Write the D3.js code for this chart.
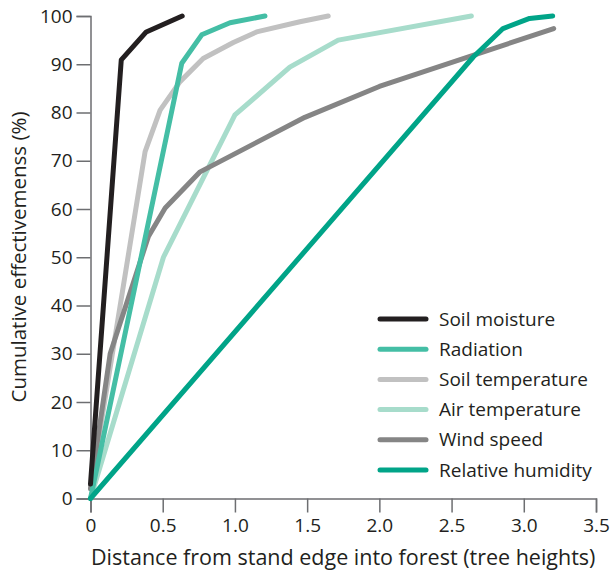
<!DOCTYPE html>
<html>
<head>
<meta charset="utf-8">
<title>Cumulative effectiveness</title>
<style>
  body { margin: 0; background: #fff; }
  text { font-family: "Open Sans", sans-serif; fill: #231f20; }
</style>
</head>
<body>
<svg width="612" height="572"></svg>
<script src="https://d3js.org/d3.v7.min.js"></script>
<script>
// data: [distance (tree heights), cumulative %]
var soilMoisture = [[0, 3], [0.213, 90.9], [0.386, 96.7], [0.635, 100]];
var radiation = [[0, 0], [0.632, 90.2], [0.77, 96.1], [0.966, 98.6], [1.208, 100]];
var soilTemperature = [[0, 2], [0.378, 71.9], [0.482, 80.5], [0.62, 86.4], [0.78, 91.2],
                       [0.989, 94.5], [1.15, 96.7], [1.45, 98.8], [1.646, 100]];
var airTemperature = [[0, 0], [0.505, 50], [1.0, 79.5], [1.38, 89.4], [1.715, 95], [2.637, 100]];
var windSpeed = [[0, 2], [0.136, 30], [0.401, 54.3], [0.517, 60.2], [0.759, 67.7],
                 [1.484, 79], [2.0, 85.4], [3.207, 97.4]];
var relativeHumidity = [[0, 0], [2.65, 91.5], [2.856, 97.4], [3.04, 99.5], [3.2, 100]];

var seriesNames = ["Soil moisture", "Radiation", "Soil temperature", "Air temperature", "Wind speed", "Relative humidity"];
var seriesColors = ["#231f20", "#44bea5", "#c1c1c1", "#a7dccb", "#858585", "#00a488"];
var seriesData = [soilMoisture, radiation, soilTemperature, airTemperature, windSpeed, relativeHumidity];

var xTicks = [0, 0.5, 1.0, 1.5, 2.0, 2.5, 3.0, 3.5];
var yTicks = [0, 10, 20, 30, 40, 50, 60, 70, 80, 90, 100];

var svg = d3.select("svg");

var x = d3.scaleLinear().domain([0, 3.5]).range([90.5, 596]);
var y = d3.scaleLinear().domain([0, 100]).range([498.5, 16]);

// axes
var xAxis = svg.append("g")
    .attr("transform", "translate(0," + y(0) + ")")
    .call(d3.axisBottom(x).tickValues(xTicks).tickSize(14).tickPadding(6)
        .tickFormat(function(d) { return d === 0 ? "0" : d3.format(".1f")(d); }));

var yAxis = svg.append("g")
    .attr("transform", "translate(" + x(0) + ",0)")
    .call(d3.axisLeft(y).tickValues(yTicks).tickSize(14).tickPadding(4));

[xAxis, yAxis].forEach(function(a) {
  a.select(".domain").attr("stroke", "#6d6e71").attr("stroke-width", 1.5);
  a.selectAll(".tick line").attr("stroke", "#6d6e71").attr("stroke-width", 1.5);
  a.selectAll(".tick text").attr("font-size", 19).attr("font-family", "Open Sans, sans-serif").attr("fill", "#231f20");
});

// axis titles
svg.append("text")
    .attr("x", (x(0) + x(3.5)) / 2)
    .attr("y", 565)
    .attr("text-anchor", "middle")
    .attr("font-size", 21.5)
    .text("Distance from stand edge into forest (tree heights)");

svg.append("text")
    .attr("transform", "translate(26,257) rotate(-90)")
    .attr("text-anchor", "middle")
    .attr("font-size", 20.5)
    .text("Cumulative effectivemenss (%)");

// lines
var line = d3.line()
    .x(function(d) { return x(d[0]); })
    .y(function(d) { return y(d[1]); });

var drawOrder = [2, 3, 4, 1, 0, 5];
svg.append("g").selectAll("path")
    .data(drawOrder)
    .enter().append("path")
      .attr("d", function(i) { return line(seriesData[i]); })
      .attr("fill", "none")
      .attr("stroke", function(i) { return seriesColors[i]; })
      .attr("stroke-width", 5)
      .attr("stroke-linecap", "round")
      .attr("stroke-linejoin", "round");

// legend
var legend = svg.append("g").selectAll("g")
    .data(seriesNames)
    .enter().append("g")
      .attr("transform", function(d, i) { return "translate(0," + (319 + i * 30.2) + ")"; });

legend.append("line")
    .attr("x1", 380).attr("x2", 426)
    .attr("stroke", function(d, i) { return seriesColors[i]; })
    .attr("stroke-width", 5)
    .attr("stroke-linecap", "round");

legend.append("text")
    .attr("x", 439)
    .attr("dy", "0.35em")
    .attr("font-size", 19)
    .text(function(d) { return d; });
</script>
</body>
</html>
